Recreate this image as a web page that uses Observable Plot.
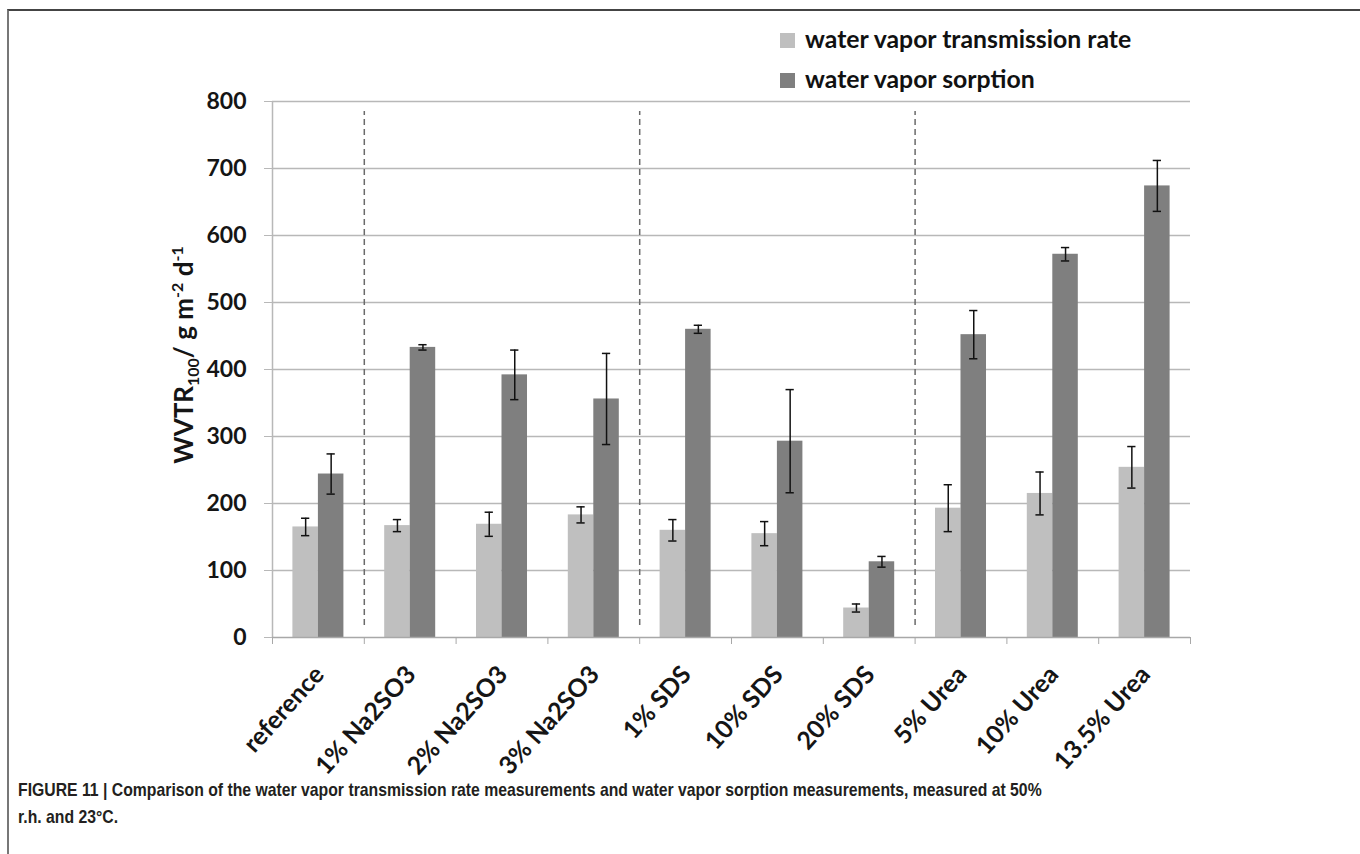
<!DOCTYPE html>
<html>
<head>
<meta charset="utf-8">
<script src="https://cdn.jsdelivr.net/npm/d3@7"></script>
<script src="https://cdn.jsdelivr.net/npm/@observablehq/plot@0.6"></script>
<style>
  html, body { margin: 0; padding: 0; background: #fff; }
  #wrap { position: relative; width: 1360px; height: 854px; overflow: hidden; background: #fff; }
  #frame { position: absolute; left: 7px; top: 9px; width: 1360px; height: 900px; border-top: 2px solid #444; border-left: 2px solid #777; box-sizing: border-box; }
  #chart { position: absolute; left: 0; top: 0; }
  .legend { position: absolute; left: 780px; font-family: Lato, "Open Sans", sans-serif; font-weight: 700; font-size: 24.8px; color: #111; white-space: nowrap; }
  .legend .sw { position: absolute; left: 0; width: 15px; height: 15px; }
  .legend .lbl { position: absolute; left: 25px; top: -2px; }
  #caption { position: absolute; left: 18px; top: 776px; font-family: "Liberation Sans", Arial, sans-serif; font-weight: 700; font-size: 19px; line-height: 27px; color: #231f20; white-space: nowrap; transform: scaleX(0.83); transform-origin: 0 0; }
</style>
</head>
<body>
<div id="wrap">
  <div id="frame"></div>
  <div id="chart"></div>
  <div id="legend"></div>
  <div id="caption">FIGURE 11 | Comparison of the water vapor transmission rate measurements and water vapor sorption measurements, measured at 50%<br>r.h. and 23°C.</div>
</div>
<script>
// ---- data ----
const categories = ["reference", "1% Na2SO3", "2% Na2SO3", "3% Na2SO3", "1% SDS", "10% SDS", "20% SDS", "5% Urea", "10% Urea", "13.5% Urea"];
const seriesNames = ["water vapor transmission rate", "water vapor sorption"];
const wvtrValues = [165, 167, 169, 183, 160, 155, 44, 193, 215, 254];
const wvtrErrors = [13, 9, 18, 12, 16, 18, 6, 35, 32, 31];
const sorptionValues = [244, 433, 392, 356, 460, 293, 113, 452, 572, 674];
const sorptionErrors = [30, 4, 37, 68, 6, 77, 8, 36, 10, 38];
const groupBoundaries = [1, 4, 7]; // dashed separators after reference, 3% Na2SO3, 20% SDS
const yTicks = [0, 100, 200, 300, 400, 500, 600, 700, 800];

const colors = ["#bfbfbf", "#7f7f7f"];

// ---- build table ----
const gap = 0.2222;           // Excel-like gap on each side of a category
const barW = (1 - 2 * gap) / 2;
const rows = [];
categories.forEach((c, i) => {
  rows.push({cat: c, i, s: 0, value: wvtrValues[i], err: wvtrErrors[i]});
  rows.push({cat: c, i, s: 1, value: sorptionValues[i], err: sorptionErrors[i]});
});
const x1 = d => d.i + gap + d.s * barW;
const x2 = d => d.i + gap + (d.s + 1) * barW;
const xc = d => d.i + gap + (d.s + 0.5) * barW;
const capHalf = 0.045;

const W = 1360, H = 812;
const chart = Plot.plot({
  width: W,
  height: H,
  marginLeft: 272,
  marginRight: 170,
  marginTop: 101,
  marginBottom: H - 637,
  style: {fontFamily: "Lato, 'Open Sans', sans-serif", fontWeight: 700, fontSize: "23px", color: "#151515", background: "transparent"},
  x: {domain: [0, categories.length], axis: null},
  y: {domain: [0, 800], axis: null},
  marks: [
    Plot.gridY(yTicks.filter(t => t > 0), {stroke: "#b8b8b8", strokeOpacity: 1, strokeWidth: 1.5}),
    Plot.ruleX([0], {stroke: "#b8b8b8", strokeWidth: 1.5}),
    Plot.axisY({ticks: yTicks, tickSize: 8, tickPadding: 18, stroke: "#b8b8b8", tickFormat: d => d, label: null, fill: "#151515"}),
    Plot.rectY(rows, {x1, x2, y1: 0, y2: "value", fill: d => colors[d.s]}),
    Plot.ruleX(rows, {x: xc, y1: d => d.value - d.err, y2: d => d.value + d.err, stroke: "#111", strokeWidth: 1.5}),
    Plot.ruleY(rows, {y: d => d.value + d.err, x1: d => xc(d) - capHalf, x2: d => xc(d) + capHalf, stroke: "#111", strokeWidth: 1.5}),
    Plot.ruleY(rows, {y: d => d.value - d.err, x1: d => xc(d) - capHalf, x2: d => xc(d) + capHalf, stroke: "#111", strokeWidth: 1.5}),
    Plot.ruleX(groupBoundaries, {y1: 0, y2: 800, insetTop: -12, insetBottom: -10, stroke: "#6a6a6a", strokeWidth: 1.5, strokeDasharray: "6,4"}),
    Plot.ruleY([0], {stroke: "#a8a8a8", strokeWidth: 1.5}),
    Plot.axisX({ticks: d3.range(categories.length + 1), tickSize: 7, stroke: "#a8a8a8", tickFormat: () => "", label: null}),
    Plot.axisX({ticks: categories.map((c, i) => i + 0.5), tickSize: 0, tickFormat: d => categories[Math.floor(d)], tickRotate: -48, textAnchor: "end", fontSize: 25, dx: 1, dy: 21, label: null, fill: "#151515"})
  ]
});
document.getElementById("chart").appendChild(chart);

// rotated y label with sub/superscripts
const svg = d3.select(chart);
const t = svg.append("text")
  .attr("transform", "translate(193,355) rotate(-90)")
  .attr("text-anchor", "middle")
  .style("font-family", "Lato, 'Open Sans', sans-serif")
  .style("font-weight", 700)
  .style("font-size", "26px")
  .attr("fill", "#151515");
t.append("tspan").text("WVTR");
t.append("tspan").attr("dy", 6).style("font-size", "16px").text("100");
t.append("tspan").attr("dy", -6).text("/ g m");
t.append("tspan").attr("dy", -10).style("font-size", "16px").text("-2");
t.append("tspan").attr("dy", 10).text(" d");
t.append("tspan").attr("dy", -10).style("font-size", "16px").text("-1");

// legend
const lg = document.getElementById("legend");
seriesNames.forEach((name, k) => {
  const row = document.createElement("div");
  row.className = "legend";
  row.style.top = (26 + k * 40) + "px";
  row.innerHTML = `<span class="sw" style="top:7px;background:${colors[k]}"></span><span class="lbl">${name}</span>`;
  lg.appendChild(row);
});
</script>
</body>
</html>
